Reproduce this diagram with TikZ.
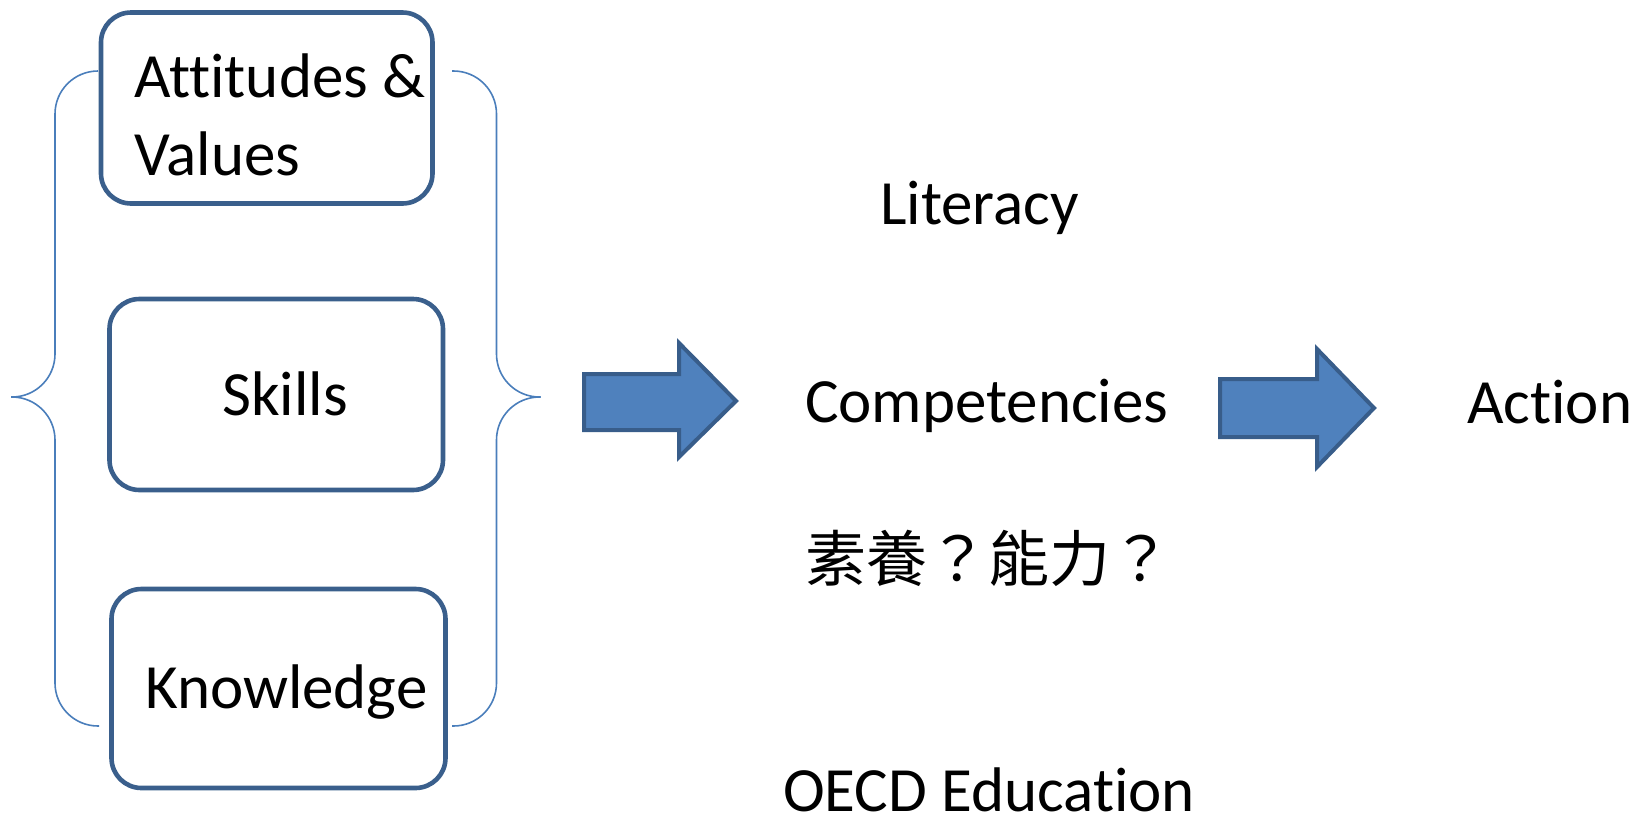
\documentclass[tikz,border=0pt]{standalone}
\usepackage{fontspec}
\setmainfont{Carlito}[Ligatures={NoCommon,NoContextual}]
\newfontfamily\cjkfont{Noto Sans CJK TC}
\definecolor{boxline}{HTML}{3A5F8C}
\definecolor{braceline}{HTML}{4A7EBB}
\definecolor{arrowfill}{HTML}{4F81BD}
\definecolor{arrowline}{HTML}{385D8A}
\tikzset{
  kbox/.style={draw=boxline, line width=4.6pt, rounded corners=30pt, minimum width=#1, inner sep=0pt},
  lbl/.style={anchor=base west, inner sep=0pt, font=\fontsize{63}{75}\selectfont},
  brc/.style={draw=braceline, line width=1.6pt, rounded corners=43pt},
  bigarrow/.style={fill=arrowfill, draw=arrowline, line width=4pt, line join=miter}
}
\begin{document}
\begin{tikzpicture}[x=1pt,y=-1pt]
\useasboundingbox (0,0) rectangle (1634,820);
% boxes
\node[kbox=331.5pt, minimum height=191pt] (att) at (266.75,108) {};
\node[kbox=333.5pt, minimum height=191pt] (ski) at (276.25,394.5) {};
\node[kbox=334pt, minimum height=199pt] (kno) at (278.5,688.5) {};
% box texts
\node[lbl] (attT1) at (134,97) {Attitudes \&};
\node[lbl] (attT2) at (134,175) {Values};
\node[lbl] (skiT) at (222,415) {Skills};
\node[lbl] (knoT) at (145,708) {Knowledge};
% braces
\coordinate (lbTop) at (98,71);
\coordinate (lbTip) at (11,397);
\coordinate (lbBot) at (99,726);
\draw[brc] (lbTop) -| (55,397) -- (lbTip);
\draw[brc] (lbTip) -| (55,726) -- (lbBot);
\coordinate (rbTop) at (452,71);
\coordinate (rbTip) at (540.5,397);
\coordinate (rbBot) at (452,726);
\draw[brc] (rbTop) -| (496.5,397) -- (rbTip);
\draw[brc] (rbTip) -| (496.5,726) -- (rbBot);
% arrows
\draw[bigarrow] (584,374) -- (679,374) -- (679,343) -- (736,401) -- (679,457) -- (679,430) -- (584,430) -- cycle;
\draw[bigarrow] (1220,379) -- (1317,379) -- (1317,349) -- (1374,408) -- (1317,467) -- (1317,437) -- (1220,437) -- cycle;
% middle and right texts
\node[lbl] (lit) at (880,224) {Literacy};
\node[lbl] (comp) at (805,422) {Competencies};
\node[lbl, font=\cjkfont\fontsize{61}{70}\selectfont] (zh) at (805,581) {素養？能力？};
\node[lbl] (act) at (1467,423) {Action};
\node[lbl] (oecd) at (783,811) {OECD Education};
\end{tikzpicture}
\end{document}
